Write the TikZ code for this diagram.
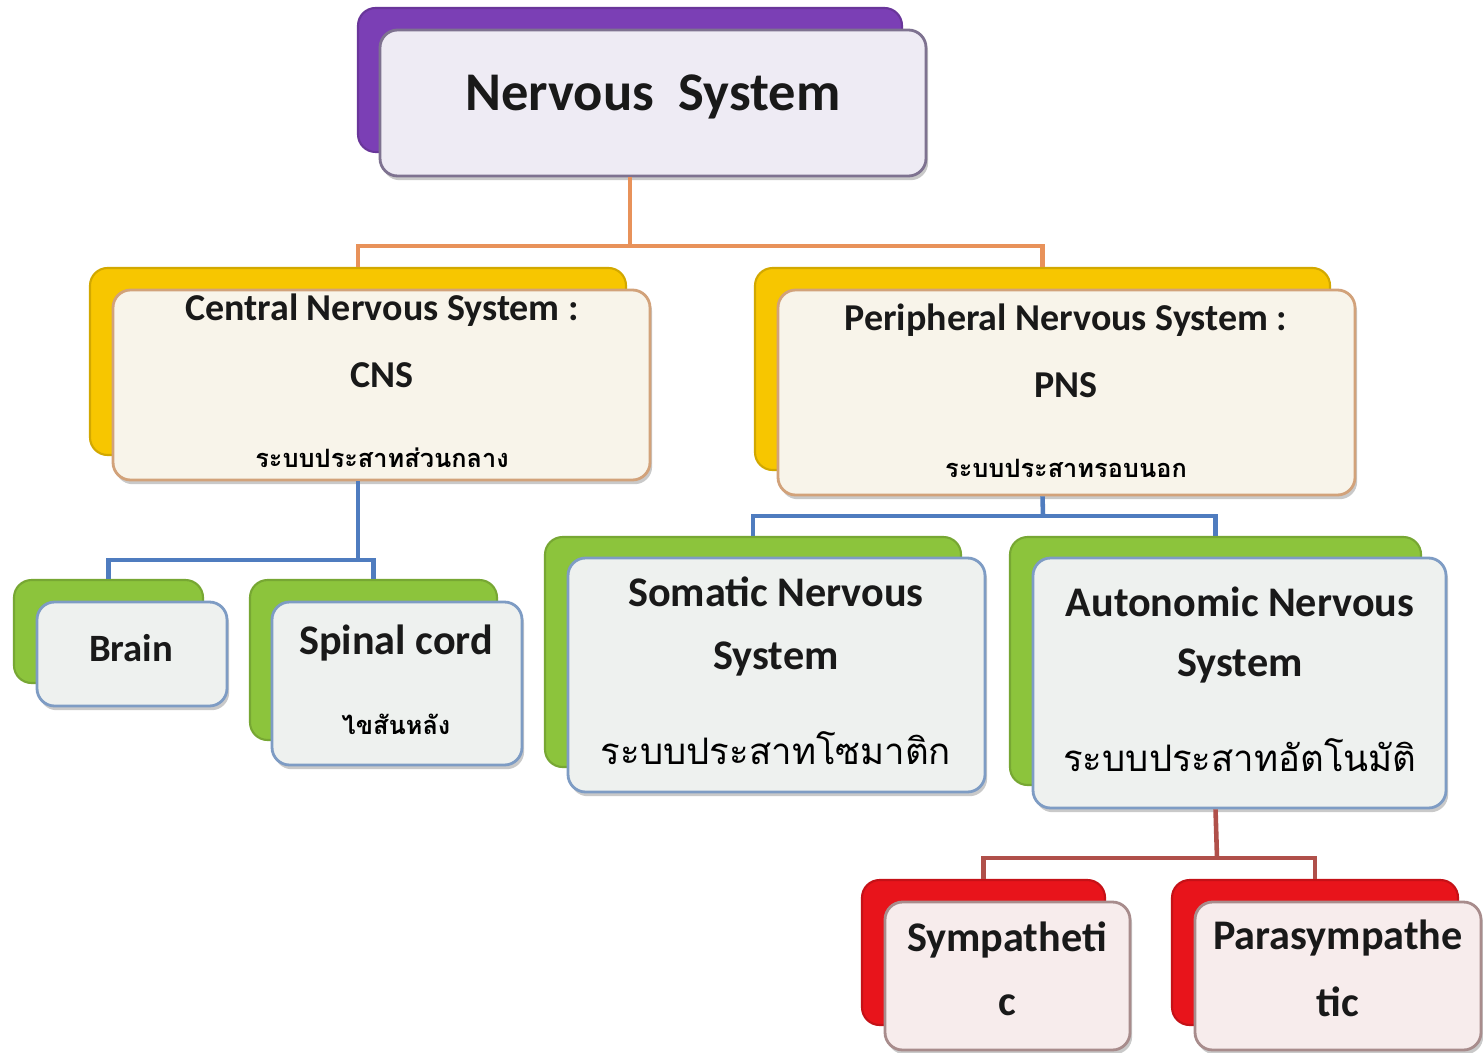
\documentclass[tikz,border=0pt]{standalone}
\usepackage{fontspec}
\setmainfont{Carlito}
\newfontfamily\thai[Script=Thai]{Loma}
\usetikzlibrary{shadows,fit}
\definecolor{purpleback}{HTML}{7B3FB5}
\definecolor{purplefront}{HTML}{EEEBF4}
\definecolor{purpleedge}{HTML}{7E7290}
\definecolor{yellowback}{HTML}{F7C600}
\definecolor{yellowfront}{HTML}{F8F4EA}
\definecolor{yellowedge}{HTML}{D2A27A}
\definecolor{greenback}{HTML}{8CC43C}
\definecolor{greenfront}{HTML}{EEF1EF}
\definecolor{greenedge}{HTML}{7E9CC4}
\definecolor{redback}{HTML}{E8141B}
\definecolor{redfront}{HTML}{F7ECEC}
\definecolor{rededge}{HTML}{A88C8C}
\definecolor{oline}{HTML}{E8925A}
\definecolor{bline}{HTML}{4F7CBF}
\definecolor{rline}{HTML}{B0504A}
\tikzset{
  backbox/.style={inner sep=0pt, rounded corners=5pt, fill=#1, draw=#1!85!black, line width=0.6pt},
  frontbox/.style={inner sep=0pt, rounded corners=5pt, line width=0.8pt,
    drop shadow={shadow xshift=0.6pt, shadow yshift=-1.2pt, opacity=0.35, fill=black!60}},
  conn/.style={line width=1.3pt},
  lbl/.style={inner sep=0pt, font=\bfseries, text=black!90},
  thaismall/.style={inner sep=0pt, font=\thai\bfseries\fontsize{7.2}{8}\selectfont},
  thaibig/.style={inner sep=0pt, font=\thai\fontsize{10.4}{12}\selectfont},
}
\begin{document}
\begin{tikzpicture}[x=0.01cm,y=-0.01cm]
\useasboundingbox[fill=white] (0,0) rectangle (1483,1052);

% top
\node[backbox=purpleback, fit={(358,8) (902,152)}] (topback) {};
\node[frontbox, fill=purplefront, draw=purpleedge, fit={(380,30) (926,176)}] (topfront) {};
\node[lbl, font=\bfseries\fontsize{15.5}{18}\selectfont] (ttop) at (653,97) {Nervous\ \ System};

% CNS
\node[backbox=yellowback, fit={(90,268) (626,455)}] (cnsback) {};
\node[frontbox, fill=yellowfront, draw=yellowedge, fit={(113,290) (650,480)}] (cnsfront) {};
\node[lbl, font=\bfseries\fontsize{10.8}{12}\selectfont] (cnst1) at (382,310) {Central Nervous System :};
\node[lbl, font=\bfseries\fontsize{10.8}{12}\selectfont] (cnst2) at (382,375) {CNS};
\node[thaismall] (cnst3) at (382,458) {ระบบประสาทส่วนกลาง};

% PNS
\node[backbox=yellowback, fit={(755,268) (1330,470)}] (pnsback) {};
\node[frontbox, fill=yellowfront, draw=yellowedge, fit={(778,290) (1355,495)}] (pnsfront) {};
\node[lbl, font=\bfseries\fontsize{10.8}{12}\selectfont] (pnst1) at (1066,320) {Peripheral Nervous System :};
\node[lbl, font=\bfseries\fontsize{10.8}{12}\selectfont] (pnst2) at (1066,385) {PNS};
\node[thaismall] (pnst3) at (1066,468) {ระบบประสาทรอบนอก};

% Brain
\node[backbox=greenback, fit={(14,580) (203,683)}] (brainback) {};
\node[frontbox, fill=greenfront, draw=greenedge, fit={(37,602) (227,706)}] (brainfront) {};
\node[lbl, font=\bfseries\fontsize{11}{13}\selectfont] (braint) at (131,648) {Brain};

% Spinal cord
\node[backbox=greenback, fit={(250,580) (497,740)}] (spinback) {};
\node[frontbox, fill=greenfront, draw=greenedge, fit={(272,602) (522,765)}] (spinfront) {};
\node[lbl, font=\bfseries\fontsize{12}{14}\selectfont] (spint1) at (396,643) {Spinal cord};
\node[thaismall] (spint2) at (396,724) {ไขสันหลัง};

% Somatic
\node[backbox=greenback, fit={(545,537) (961,767)}] (somback) {};
\node[frontbox, fill=greenfront, draw=greenedge, fit={(568,558) (985,792)}] (somfront) {};
\node[lbl, font=\bfseries\fontsize{12}{14}\selectfont] (somt1) at (776,592) {Somatic Nervous};
\node[lbl, font=\bfseries\fontsize{12}{14}\selectfont] (somt2) at (776,659) {System};
\node[thaibig] (somt3) at (776,748) {ระบบประสาทโซมาติก};

% Autonomic
\node[backbox=greenback, fit={(1010,537) (1421,785)}] (autback) {};
\node[frontbox, fill=greenfront, draw=greenedge, fit={(1033,558) (1446,808)}] (autfront) {};
\node[lbl, font=\bfseries\fontsize{12}{14}\selectfont] (autt1) at (1240,602) {Autonomic Nervous};
\node[lbl, font=\bfseries\fontsize{12}{14}\selectfont] (autt2) at (1240,666) {System};
\node[thaibig] (autt3) at (1240,755) {ระบบประสาทอัตโนมัติ};

% Sympathetic
\node[backbox=redback, fit={(862,880) (1105,1025)}] (symback) {};
\node[frontbox, fill=redfront, draw=rededge, fit={(885,902) (1130,1050)}] (symfront) {};
\node[lbl, font=\bfseries\fontsize{12}{14}\selectfont] (symt1) at (1007,940) {Sympatheti};
\node[lbl, font=\bfseries\fontsize{12}{14}\selectfont] (symt2) at (1007,1005) {c};

% Parasympathetic
\node[backbox=redback, fit={(1172,880) (1458,1025)}] (parback) {};
\node[frontbox, fill=redfront, draw=rededge, fit={(1195,902) (1481,1050)}] (parfront) {};
\node[lbl, font=\bfseries\fontsize{12}{14}\selectfont] (part1) at (1338,938) {Parasympathe};
\node[lbl, font=\bfseries\fontsize{12}{14}\selectfont] (part2) at (1338,1002) {tic};

% junctions
\coordinate (j1) at (630,246);
\coordinate (j2) at (358,560);
\coordinate (j3) at (1043,516);
\coordinate (j4) at (1217,858);

% connectors
\draw[conn, oline] (topback.center |- topfront.south) -- (j1);
\draw[conn, oline] (j1) -| (cnsback.north);
\draw[conn, oline] (j1) -| (pnsback.north);
\draw[conn, bline] (cnsback.center |- cnsfront.south) -- (j2);
\draw[conn, bline] (j2) -| (brainback.north);
\draw[conn, bline] (j2) -| (spinback.north);
\draw[conn, bline] (pnsback.center |- pnsfront.south) -- (j3);
\draw[conn, bline] (j3) -| (somback.north);
\draw[conn, bline] (j3) -| (autback.north);
\draw[conn, rline] (autback.center |- autfront.south) -- (j4);
\draw[conn, rline] (j4) -| (symback.north);
\draw[conn, rline] (j4) -| (parback.north);
\end{tikzpicture}
\end{document}
